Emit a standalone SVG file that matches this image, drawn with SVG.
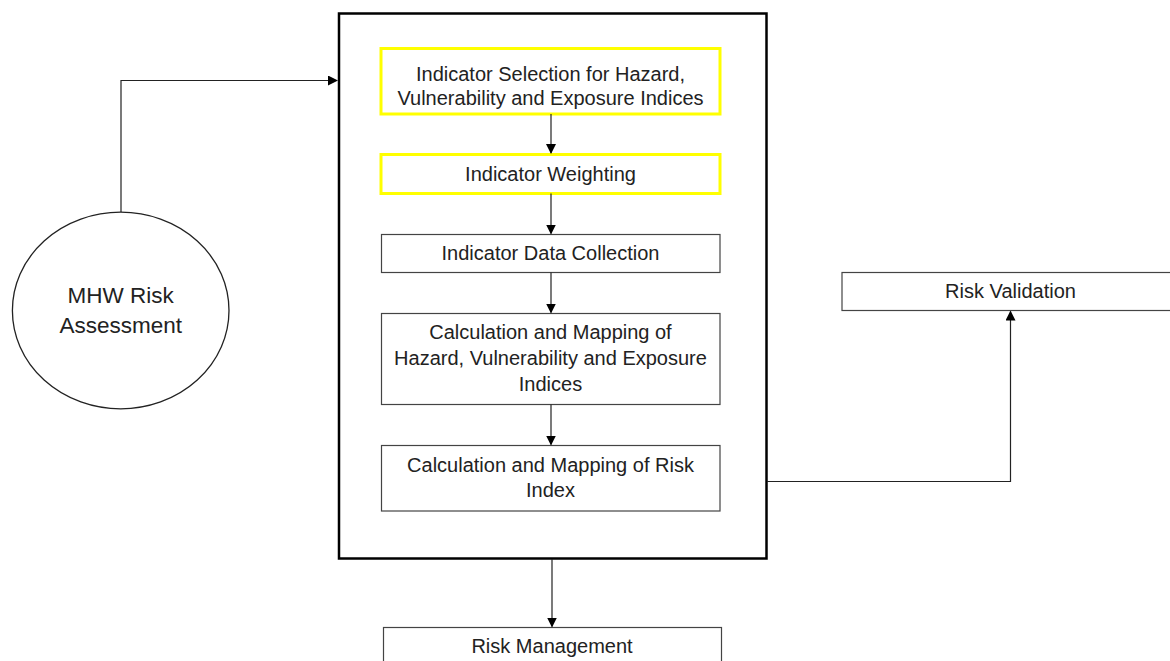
<svg xmlns="http://www.w3.org/2000/svg" width="1170" height="661" viewBox="0 0 1170 661">
<style>
.box{fill:#fff;stroke:#444;stroke-width:1.2}
.hl{fill:#fff;stroke:#ffff00;stroke-width:3}
.t{font-family:"Liberation Sans",Arial,sans-serif;font-size:20px;fill:#222;text-anchor:middle}
.big{font-size:22.5px}
.c{fill:none;stroke:#222;stroke-width:1.2}
</style>
<defs>
<marker id="ah" markerWidth="10" markerHeight="10" refX="9" refY="5" orient="auto" markerUnits="userSpaceOnUse">
<path d="M0,0 L10,5 L0,10 Z" fill="#000"/>
</marker>
</defs>
<rect width="1170" height="661" fill="#fff"/>
<g id="frame"><rect x="339" y="13.5" width="427.5" height="545" fill="none" stroke="#000" stroke-width="2.5"/></g>
<g id="n1"><rect class="hl" x="381" y="48.5" width="339" height="65.5"/>
<text class="t" x="550.5" y="81">Indicator Selection for Hazard,</text>
<text class="t" x="550.5" y="105">Vulnerability and Exposure Indices</text></g>
<g id="n2"><rect class="hl" x="381" y="154.5" width="339" height="39"/>
<text class="t" x="550.5" y="181">Indicator Weighting</text></g>
<g id="n3"><rect class="box" x="381.5" y="234.5" width="338.5" height="38"/>
<text class="t" x="550.5" y="260">Indicator Data Collection</text></g>
<g id="n4"><rect class="box" x="381.5" y="313.5" width="338.5" height="91"/>
<text class="t" x="550.5" y="339">Calculation and Mapping of</text>
<text class="t" x="550.5" y="365">Hazard, Vulnerability and Exposure</text>
<text class="t" x="550.5" y="391">Indices</text></g>
<g id="n5"><rect class="box" x="381.5" y="445.5" width="338.5" height="65.5"/>
<text class="t" x="550.5" y="472">Calculation and Mapping of Risk</text>
<text class="t" x="550.5" y="497">Index</text></g>
<g id="n6"><ellipse cx="120.7" cy="310.5" rx="108.3" ry="98.3" fill="#fff" stroke="#222" stroke-width="1.3"/>
<text class="t big" x="120.7" y="303">MHW Risk</text>
<text class="t big" x="120.7" y="333">Assessment</text></g>
<g id="n7"><rect class="box" x="842" y="272.5" width="330" height="38"/>
<text class="t" x="1010.5" y="298">Risk Validation</text></g>
<g id="n8"><rect class="box" x="383.5" y="627.5" width="338" height="40"/>
<text class="t" x="552" y="653">Risk Management</text></g>
<g id="connectors">
<path class="c" d="M121,212 V80.5 H337" marker-end="url(#ah)"/>
<path class="c" d="M551,114 V153" marker-end="url(#ah)"/>
<path class="c" d="M551,193.5 V233.5" marker-end="url(#ah)"/>
<path class="c" d="M551,272.5 V312.5" marker-end="url(#ah)"/>
<path class="c" d="M551,404.5 V444.5" marker-end="url(#ah)"/>
<path class="c" d="M552,559 V626.5" marker-end="url(#ah)"/>
<path class="c" d="M767,481.5 H1010.5 V311.5" marker-end="url(#ah)"/>
</g>
</svg>
